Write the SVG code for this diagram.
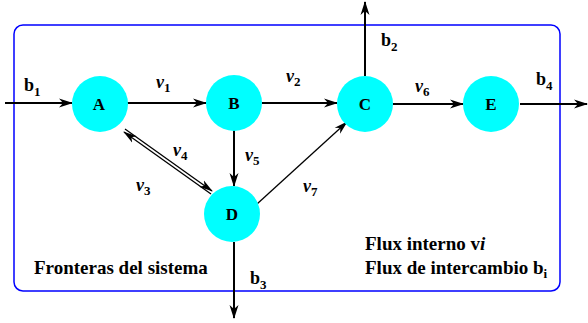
<svg xmlns="http://www.w3.org/2000/svg" width="588" height="323" viewBox="0 0 588 323">
<style>
.node{fill:#00ffff}
.nl{font-family:"Liberation Serif",serif;font-weight:bold;font-size:17px;text-anchor:middle}
.lb{font-family:"Liberation Serif",serif;font-weight:bold;font-size:18px}
.big{font-size:19px}
.it{font-style:italic}
.sub{font-size:13px}
.ar{stroke:#000;stroke-width:2;fill:none;marker-end:url(#ah)}
.th{stroke:#000;stroke-width:1.3;fill:none}
</style>
<defs>
<marker id="ah" markerUnits="userSpaceOnUse" markerWidth="16" markerHeight="10" refX="13" refY="5" orient="auto">
<path d="M0,0.5 L14,5 L0,9.5 L4,5 z" fill="#000"/>
</marker>
<marker id="ahs" markerUnits="userSpaceOnUse" markerWidth="16" markerHeight="10" refX="13" refY="5" orient="auto">
<path d="M0,1 L14,5 L0,9 L4,5 z" fill="#000"/>
</marker>
</defs>
<rect x="14" y="25" width="546" height="266" rx="9" fill="none" stroke="#0000ff" stroke-width="1.5"/>
<g id="connectors">
<line class="ar" x1="5" y1="103" x2="72" y2="103"/>
<line class="ar" x1="127" y1="103" x2="206" y2="103"/>
<line class="ar" x1="262" y1="103" x2="337" y2="103"/>
<line class="ar" x1="393" y1="104" x2="463" y2="104"/>
<line class="ar" x1="520" y1="104" x2="587" y2="104"/>
<line class="ar" x1="365" y1="76" x2="365" y2="2"/>
<line class="ar" x1="234" y1="130" x2="234" y2="186"/>
<line class="ar" x1="234" y1="242" x2="234" y2="318"/>
<line class="th" x1="257" y1="204" x2="347" y2="122" marker-end="url(#ahs)"/>
<line class="th" x1="211" y1="194" x2="124" y2="132" marker-end="url(#ahs)"/>
<line class="th" x1="125" y1="129" x2="212" y2="191" marker-end="url(#ahs)"/>
</g>
<g id="A"><circle class="node" cx="100" cy="104" r="28"/><text class="nl" x="99" y="110">A</text></g>
<g id="B"><circle class="node" cx="234" cy="103" r="28"/><text class="nl" x="234" y="109">B</text></g>
<g id="C"><circle class="node" cx="365" cy="104" r="28"/><text class="nl" x="365" y="110">C</text></g>
<g id="E"><circle class="node" cx="491" cy="104" r="28"/><text class="nl" x="491" y="110">E</text></g>
<g id="D"><circle class="node" cx="232" cy="214" r="28"/><text class="nl" x="232" y="220">D</text></g>
<g id="labels">
<text class="lb" x="24" y="91">b<tspan class="sub" dy="5">1</tspan></text>
<text class="lb" x="156" y="88"><tspan class="it">v</tspan><tspan class="sub" dy="4">1</tspan></text>
<text class="lb" x="286" y="82"><tspan class="it">v</tspan><tspan class="sub" dy="4">2</tspan></text>
<text class="lb" x="381" y="46">b<tspan class="sub" dy="5">2</tspan></text>
<text class="lb" x="415" y="92"><tspan class="it">v</tspan><tspan class="sub" dy="4">6</tspan></text>
<text class="lb" x="536" y="85">b<tspan class="sub" dy="5">4</tspan></text>
<text class="lb" x="173" y="156"><tspan class="it">v</tspan><tspan class="sub" dy="4">4</tspan></text>
<text class="lb" x="245" y="161"><tspan class="it">v</tspan><tspan class="sub" dy="4">5</tspan></text>
<text class="lb" x="136" y="191"><tspan class="it">v</tspan><tspan class="sub" dy="4">3</tspan></text>
<text class="lb" x="303" y="192"><tspan class="it">v</tspan><tspan class="sub" dy="4">7</tspan></text>
<text class="lb" x="250" y="284">b<tspan class="sub" dy="5">3</tspan></text>
<text class="lb big" x="34" y="274">Fronteras del sistema</text>
<text class="lb big" x="365" y="250">Flux interno v<tspan class="it">i</tspan></text>
<text class="lb big" x="365" y="274">Flux de intercambio b<tspan class="sub" dy="4">i</tspan></text>
</g>
</svg>
